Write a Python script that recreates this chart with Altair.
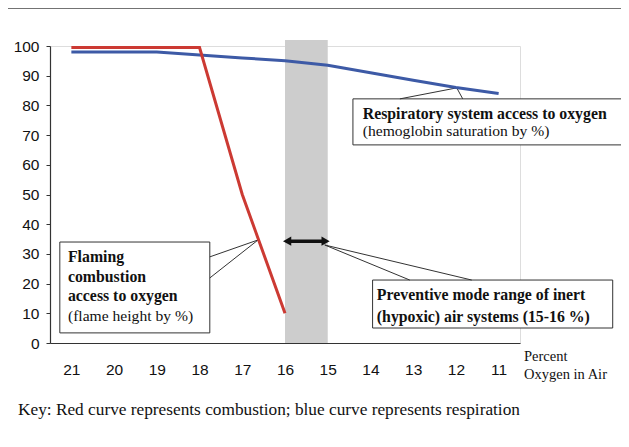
import altair as alt
import pandas as pd

# ---- data ----
oxygen = [21, 20, 19, 18, 17, 16, 15, 14, 13, 12, 11]
respiration = [98, 98, 98, 97, 96, 95, 93.5, 91, 88.5, 86, 84]
combustion_oxygen = [21, 20, 19, 18, 17, 16]
combustion = [99.5, 99.5, 99.5, 99.5, 50, 10]

band_range = [16, 15]          # preventive mode range
band_top = 102
arrow_level = 34.3

x_ticks = [21, 20, 19, 18, 17, 16, 15, 14, 13, 12, 11]
y_ticks = [0, 10, 20, 30, 40, 50, 60, 70, 80, 90, 100]

# annotation boxes (data units)
box_x = [21.27, 14.41, 13.95]
box_x2 = [17.76, 8.09, 8.33]
box_y = [34.0, 82.2, 21.2]
box_y2 = [3.4, 66.7, 5.05]

# annotation texts (data units)
ann_text = ["Flaming", "combustion", "access to oxygen", "(flame height by %)",
            "Respiratory system access to oxygen", "(hemoglobin saturation by %)",
            "Preventive mode range of inert", "(hypoxic) air systems  (15-16 %)"]
ann_x = [21.08, 21.08, 21.08, 21.08, 14.18, 14.18, 13.85, 13.85]
ann_y = [29.0, 22.2, 15.8, 9.1, 77.1, 71.4, 16.2, 8.75]
ann_weight = ["bold", "bold", "bold", "normal", "bold", "normal", "bold", "bold"]

# callout lines (data units)
call_x = [17.76, 17.76, 13.31, 11.84, 13.08, 11.63]
call_y = [29.0, 21.9, 82.2, 82.2, 21.2, 21.2]
call_x2 = [16.63, 16.63, 11.98, 11.98, 15.07, 15.07]
call_y2 = [34.7, 34.7, 85.9, 85.9, 33.0, 33.0]

key_text = "Key: Red curve represents combustion; blue curve represents respiration"
axis_title = ["Percent", "Oxygen in Air"]

RED = "#cc3a33"
BLUE = "#3d5aa6"
SERIF = "Liberation Serif, Times New Roman, serif"
SANS = "Liberation Sans, Arial, sans-serif"

xs = alt.Scale(domain=[21.5, 10.5], nice=False, zero=False)
ys = alt.Scale(domain=[0, 100], nice=False, zero=False)

X = alt.X("ox:Q", scale=xs,
          axis=alt.Axis(values=x_ticks, format="d", ticks=False, grid=False,
                        title=None, labelFont=SANS, labelFontSize=15.5,
                        labelColor="#111", labelPadding=19,
                        domainColor="#333", domainWidth=1.2))
Y = alt.Y("val:Q", scale=ys,
          axis=alt.Axis(values=y_ticks, format="d", grid=False, title=None,
                        tickSize=4, tickColor="#333", labelFont=SANS,
                        labelFontSize=15.5, labelColor="#111", labelPadding=7,
                        domainColor="#333", domainWidth=1.2))

resp_df = pd.DataFrame({"ox": oxygen, "val": respiration})
comb_df = pd.DataFrame({"ox": combustion_oxygen, "val": combustion})

blue_line = alt.Chart(resp_df).mark_line(color=BLUE, strokeWidth=3).encode(x=X, y=Y)
red_line = alt.Chart(comb_df).mark_line(color=RED, strokeWidth=3).encode(x=X, y=Y)

band_df = pd.DataFrame({"ox": [band_range[0]], "ox2": [band_range[1]],
                        "val": [0], "val2": [band_top]})
band = alt.Chart(band_df).mark_rect(color="#cdcdcd").encode(
    x=X, x2="ox2:Q", y=Y, y2="val2:Q")

arrow_df = pd.DataFrame({"ox": [15.93], "ox2": [15.07], "val": [arrow_level]})
arrow_shaft = alt.Chart(arrow_df).mark_rule(color="#111", strokeWidth=3.5).encode(
    x=X, x2="ox2:Q", y=Y)
heads_df = pd.DataFrame({"ox": [15.95, 15.05], "val": [arrow_level, arrow_level],
                         "shape": ["triangle-left", "triangle-right"]})
arrow_heads = alt.Chart(heads_df).mark_point(filled=True, color="#111", size=90,
                                             opacity=1).encode(
    x=X, y=Y, shape=alt.Shape("shape:N", scale=None))

box_df = pd.DataFrame({"ox": box_x, "ox2": box_x2, "val": box_y, "val2": box_y2})
boxes = alt.Chart(box_df).mark_rect(fill="white", stroke="#333",
                                    strokeWidth=1).encode(
    x=X, x2="ox2:Q", y=Y, y2="val2:Q")

call_df = pd.DataFrame({"ox": call_x, "val": call_y, "ox2": call_x2, "val2": call_y2})
callouts = alt.Chart(call_df).mark_rule(color="#333", strokeWidth=1).encode(
    x=X, x2="ox2:Q", y=Y, y2="val2:Q")

ann_df = pd.DataFrame({"t": ann_text, "ox": ann_x, "val": ann_y, "w": ann_weight})
ann1 = alt.Chart(ann_df[ann_df.w == "bold"]).mark_text(
    font=SERIF, fontSize=15.8, fontWeight="bold", align="left", baseline="middle",
    color="#111").encode(x=X, y=Y, text="t:N")
ann2 = alt.Chart(ann_df[ann_df.w == "normal"]).mark_text(
    font=SERIF, fontSize=15.6, align="left", baseline="middle",
    color="#111").encode(x=X, y=Y, text="t:N")

xtitle1 = alt.Chart(pd.DataFrame({"t": [axis_title[0]]})).mark_text(
    font=SERIF, fontSize=14.5, align="left", baseline="middle", color="#111"
).encode(x=alt.value(474), y=alt.value(311), text="t:N")
xtitle2 = alt.Chart(pd.DataFrame({"t": [axis_title[1]]})).mark_text(
    font=SERIF, fontSize=14.5, align="left", baseline="middle", color="#111"
).encode(x=alt.value(474), y=alt.value(329), text="t:N")

key = alt.Chart(pd.DataFrame({"t": [key_text]})).mark_text(
    font=SERIF, fontSize=17.3, align="left", baseline="middle", color="#111"
).encode(x=alt.value(-32), y=alt.value(364), text="t:N")

frame_left = alt.Chart(pd.DataFrame({"a": [0]})).mark_rule(
    color="#444", strokeWidth=1.3).encode(
    x=alt.value(-43), y=alt.value(-38), y2=alt.value(400))
frame_top = alt.Chart(pd.DataFrame({"a": [0]})).mark_rule(
    color="#444", strokeWidth=1.3).encode(
    x=alt.value(-43), x2=alt.value(580), y=alt.value(-38))

chart = alt.layer(
    band, frame_left, frame_top, boxes, callouts, blue_line, red_line,
    arrow_shaft, arrow_heads, ann1, ann2, xtitle1, xtitle2, key
).properties(
    width=470, height=297,
    padding={"left": 42, "top": 38, "right": 101, "bottom": 104},
    autosize=alt.AutoSizeParams(type="none"),
).configure_view(stroke=None).configure(background="white")

chart.save("out.html", embed_options={"renderer": "svg", "actions": False})
